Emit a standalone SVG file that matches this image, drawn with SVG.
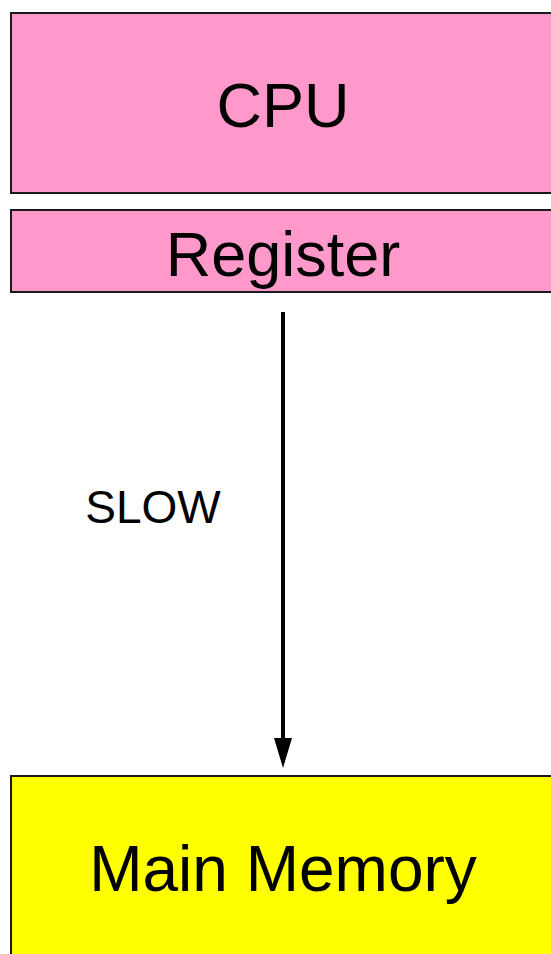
<svg xmlns="http://www.w3.org/2000/svg" width="551" height="954" viewBox="0 0 551 954">
  <style>
    .box { stroke: #1a1a1a; stroke-width: 2; }
    .cpu { fill: #ff99cc; }
    .mem { fill: #ffff00; }
    .lbl { font-family: "Liberation Sans", Arial, sans-serif; fill: #000; text-anchor: middle; }
    .big { font-size: 63px; }
    .edge { stroke: #000; stroke-width: 4; fill: none; }
    .head { fill: #000; }
  </style>

  <g id="cpu">
    <rect class="box cpu" x="11" y="13" width="546" height="180"/>
    <text class="lbl big" x="283" y="127">CPU</text>
  </g>

  <g id="register">
    <rect class="box cpu" x="11" y="210" width="546" height="82"/>
    <text class="lbl big" x="283" y="276">Register</text>
  </g>

  <g id="main-memory">
    <rect class="box mem" x="11" y="776" width="546" height="200"/>
    <text class="lbl" x="283" y="891" font-size="64">Main Memory</text>
  </g>

  <g id="connectors">
    <line class="edge" x1="283" y1="312" x2="283" y2="740"/>
    <path class="head" d="M274,738 L292,738 L283,768 Z"/>
    <text class="lbl" x="153" y="523" font-size="46">SLOW</text>
  </g>
</svg>
